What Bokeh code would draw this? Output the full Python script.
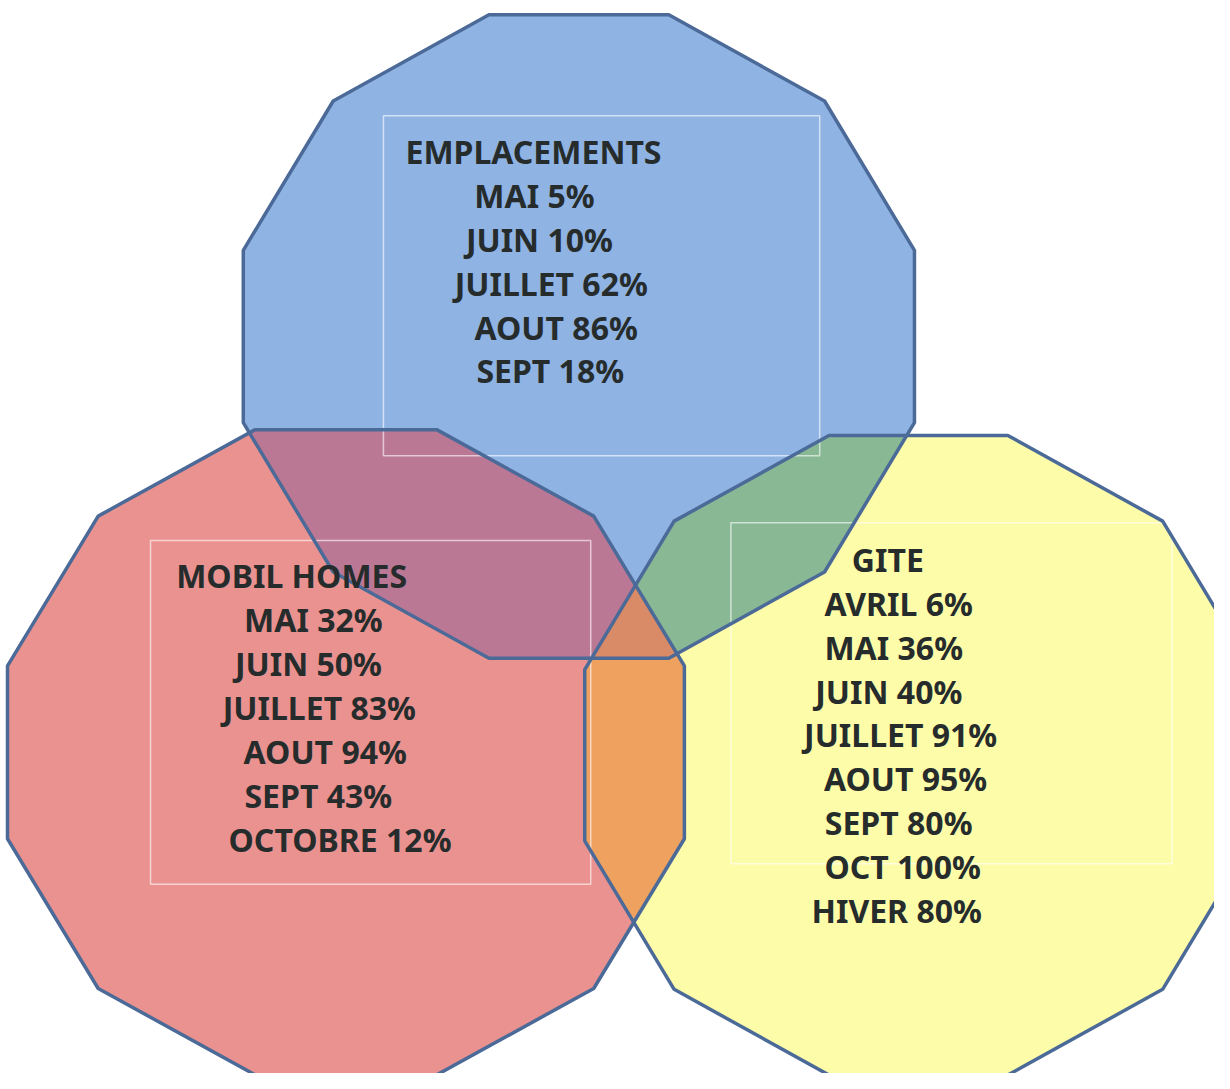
import math
from bokeh.plotting import figure
from bokeh.models import Range1d, ColumnDataSource
from bokeh.core.properties import value
from bokeh.embed import file_html
from bokeh.resources import INLINE

# ---------------- data ----------------
set_names = ["EMPLACEMENTS", "MOBIL HOMES", "GITE"]

emplacements_months = ["MAI", "JUIN", "JUILLET", "AOUT", "SEPT"]
emplacements_pct = [5, 10, 62, 86, 18]

mobil_months = ["MAI", "JUIN", "JUILLET", "AOUT", "SEPT", "OCTOBRE"]
mobil_pct = [32, 50, 83, 94, 43, 12]

gite_months = ["AVRIL", "MAI", "JUIN", "JUILLET", "AOUT", "SEPT", "OCT", "HIVER"]
gite_pct = [6, 36, 40, 91, 95, 80, 100, 80]

# ---------------- layout (pixel space of the picture) ----------------
# dodecagon centres and radii: (cx, cy, rx, ry)
shape_geom = {
    "EMPLACEMENTS": (586, 341, 352, 338),
    "MOBIL HOMES": (350, 763, 355, 339),
    "GITE": (930, 766, 350, 336),
}
fill_colors = {
    "EMPLACEMENTS": "#8FB3E3",
    "MOBIL HOMES": "#EA928F",
    "GITE": "#FDFCA9",
}
overlap_colors = {
    ("EMPLACEMENTS", "MOBIL HOMES"): "#BB7895",
    ("EMPLACEMENTS", "GITE"): "#88B894",
    ("MOBIL HOMES", "GITE"): "#EFA160",
}
triple_color = "#D98A66"
outline_color = "#4B6A98"

# text boxes: (left, top, right, bottom)
boxes = {
    "EMPLACEMENTS": (388, 117, 830, 462),
    "MOBIL HOMES": (152, 548, 598, 897),
    "GITE": (740, 530, 1187, 876),
}
# line centres (x) and rows (y) per block
title_y = {"EMPLACEMENTS": 153, "MOBIL HOMES": 584, "GITE": 567}
title_x = {"EMPLACEMENTS": 540, "MOBIL HOMES": 295, "GITE": 899}
line_x = {
    "EMPLACEMENTS": [541, 546, 558, 563, 557],
    "MOBIL HOMES": [317, 312, 323, 329, 322, 344],
    "GITE": [910, 905, 900, 912, 917, 910, 914, 908],
}
line_step = 44.6


def dodecagon(cx, cy, rx, ry):
    pts = []
    for k in range(12):
        t = math.radians(15 + 30 * k)
        pts.append((cx + rx * math.cos(t), cy - ry * math.sin(t)))
    return pts


def area_sign(poly):
    s = 0.0
    for i in range(len(poly)):
        x1, y1 = poly[i]
        x2, y2 = poly[(i + 1) % len(poly)]
        s += x1 * y2 - x2 * y1
    return 1 if s > 0 else -1


def clip(subject, clipper):
    sgn = area_sign(clipper)
    out = subject[:]
    n = len(clipper)
    for i in range(n):
        ax, ay = clipper[i]
        bx, by = clipper[(i + 1) % n]

        def inside(pt):
            return ((bx - ax) * (pt[1] - ay) - (by - ay) * (pt[0] - ax)) * sgn >= 0

        def inter(p1, p2):
            x1, y1 = p1
            x2, y2 = p2
            dx, dy = x2 - x1, y2 - y1
            den = dx * (by - ay) - dy * (bx - ax)
            if den == 0:
                return p1
            u = ((ax - x1) * (by - ay) - (ay - y1) * (bx - ax)) / den
            return (x1 + u * dx, y1 + u * dy)

        inp = out
        out = []
        if not inp:
            break
        prev = inp[-1]
        for cur in inp:
            if inside(cur):
                if not inside(prev):
                    out.append(inter(prev, cur))
                out.append(cur)
            elif inside(prev):
                out.append(inter(prev, cur))
            prev = cur
    return out


polys = {name: dodecagon(*shape_geom[name]) for name in set_names}

p = figure(width=1214, height=1073, output_backend="svg", toolbar_location=None,
           x_range=Range1d(0, 1230), y_range=Range1d(1089, 0),
           x_axis_type=None, y_axis_type=None, min_border=0)
p.outline_line_color = None
p.grid.visible = False
p.background_fill_color = "white"
p.border_fill_color = "white"

# base fills
p.patches([[x for x, _ in polys[n]] for n in set_names],
          [[y for _, y in polys[n]] for n in set_names],
          fill_color=[fill_colors[n] for n in set_names], line_color=None)

# pairwise and triple overlaps
ov_x, ov_y, ov_c = [], [], []
for (a, b), col in overlap_colors.items():
    q = clip(polys[a], polys[b])
    if q:
        ov_x.append([x for x, _ in q])
        ov_y.append([y for _, y in q])
        ov_c.append(col)
tri = clip(clip(polys[set_names[0]], polys[set_names[1]]), polys[set_names[2]])
if tri:
    ov_x.append([x for x, _ in tri])
    ov_y.append([y for _, y in tri])
    ov_c.append(triple_color)
p.patches(ov_x, ov_y, fill_color=ov_c, line_color=None)

# text boxes
bl = [boxes[n][0] for n in set_names]
bt = [boxes[n][1] for n in set_names]
br = [boxes[n][2] for n in set_names]
bb = [boxes[n][3] for n in set_names]
p.quad(left=bl, right=br, top=bt, bottom=bb, fill_color=None,
       line_color="white", line_alpha=0.6, line_width=1.5)

# outlines
p.patches([[x for x, _ in polys[n]] for n in set_names],
          [[y for _, y in polys[n]] for n in set_names],
          fill_color=None, line_color=outline_color, line_width=3.5)

# texts
blocks = {
    "EMPLACEMENTS": (emplacements_months, emplacements_pct),
    "MOBIL HOMES": (mobil_months, mobil_pct),
    "GITE": (gite_months, gite_pct),
}
tx, ty, tt = [], [], []
for n in set_names:
    tx.append(title_x[n])
    ty.append(title_y[n])
    tt.append(n)
    months, pct = blocks[n]
    for i, (m, v) in enumerate(zip(months, pct)):
        tx.append(line_x[n][i])
        ty.append(title_y[n] + line_step * (i + 1))
        tt.append(f"{m} {v}%")
src = ColumnDataSource(dict(x=tx, y=ty, t=tt))
p.text(x="x", y="y", text="t", source=src, text_align="center", text_baseline="middle",
       text_font=value("Noto Sans"), text_font_style="bold", text_font_size="32px",
       text_color="#262C2C")

open("out.html", "w").write(file_html(p, INLINE))
